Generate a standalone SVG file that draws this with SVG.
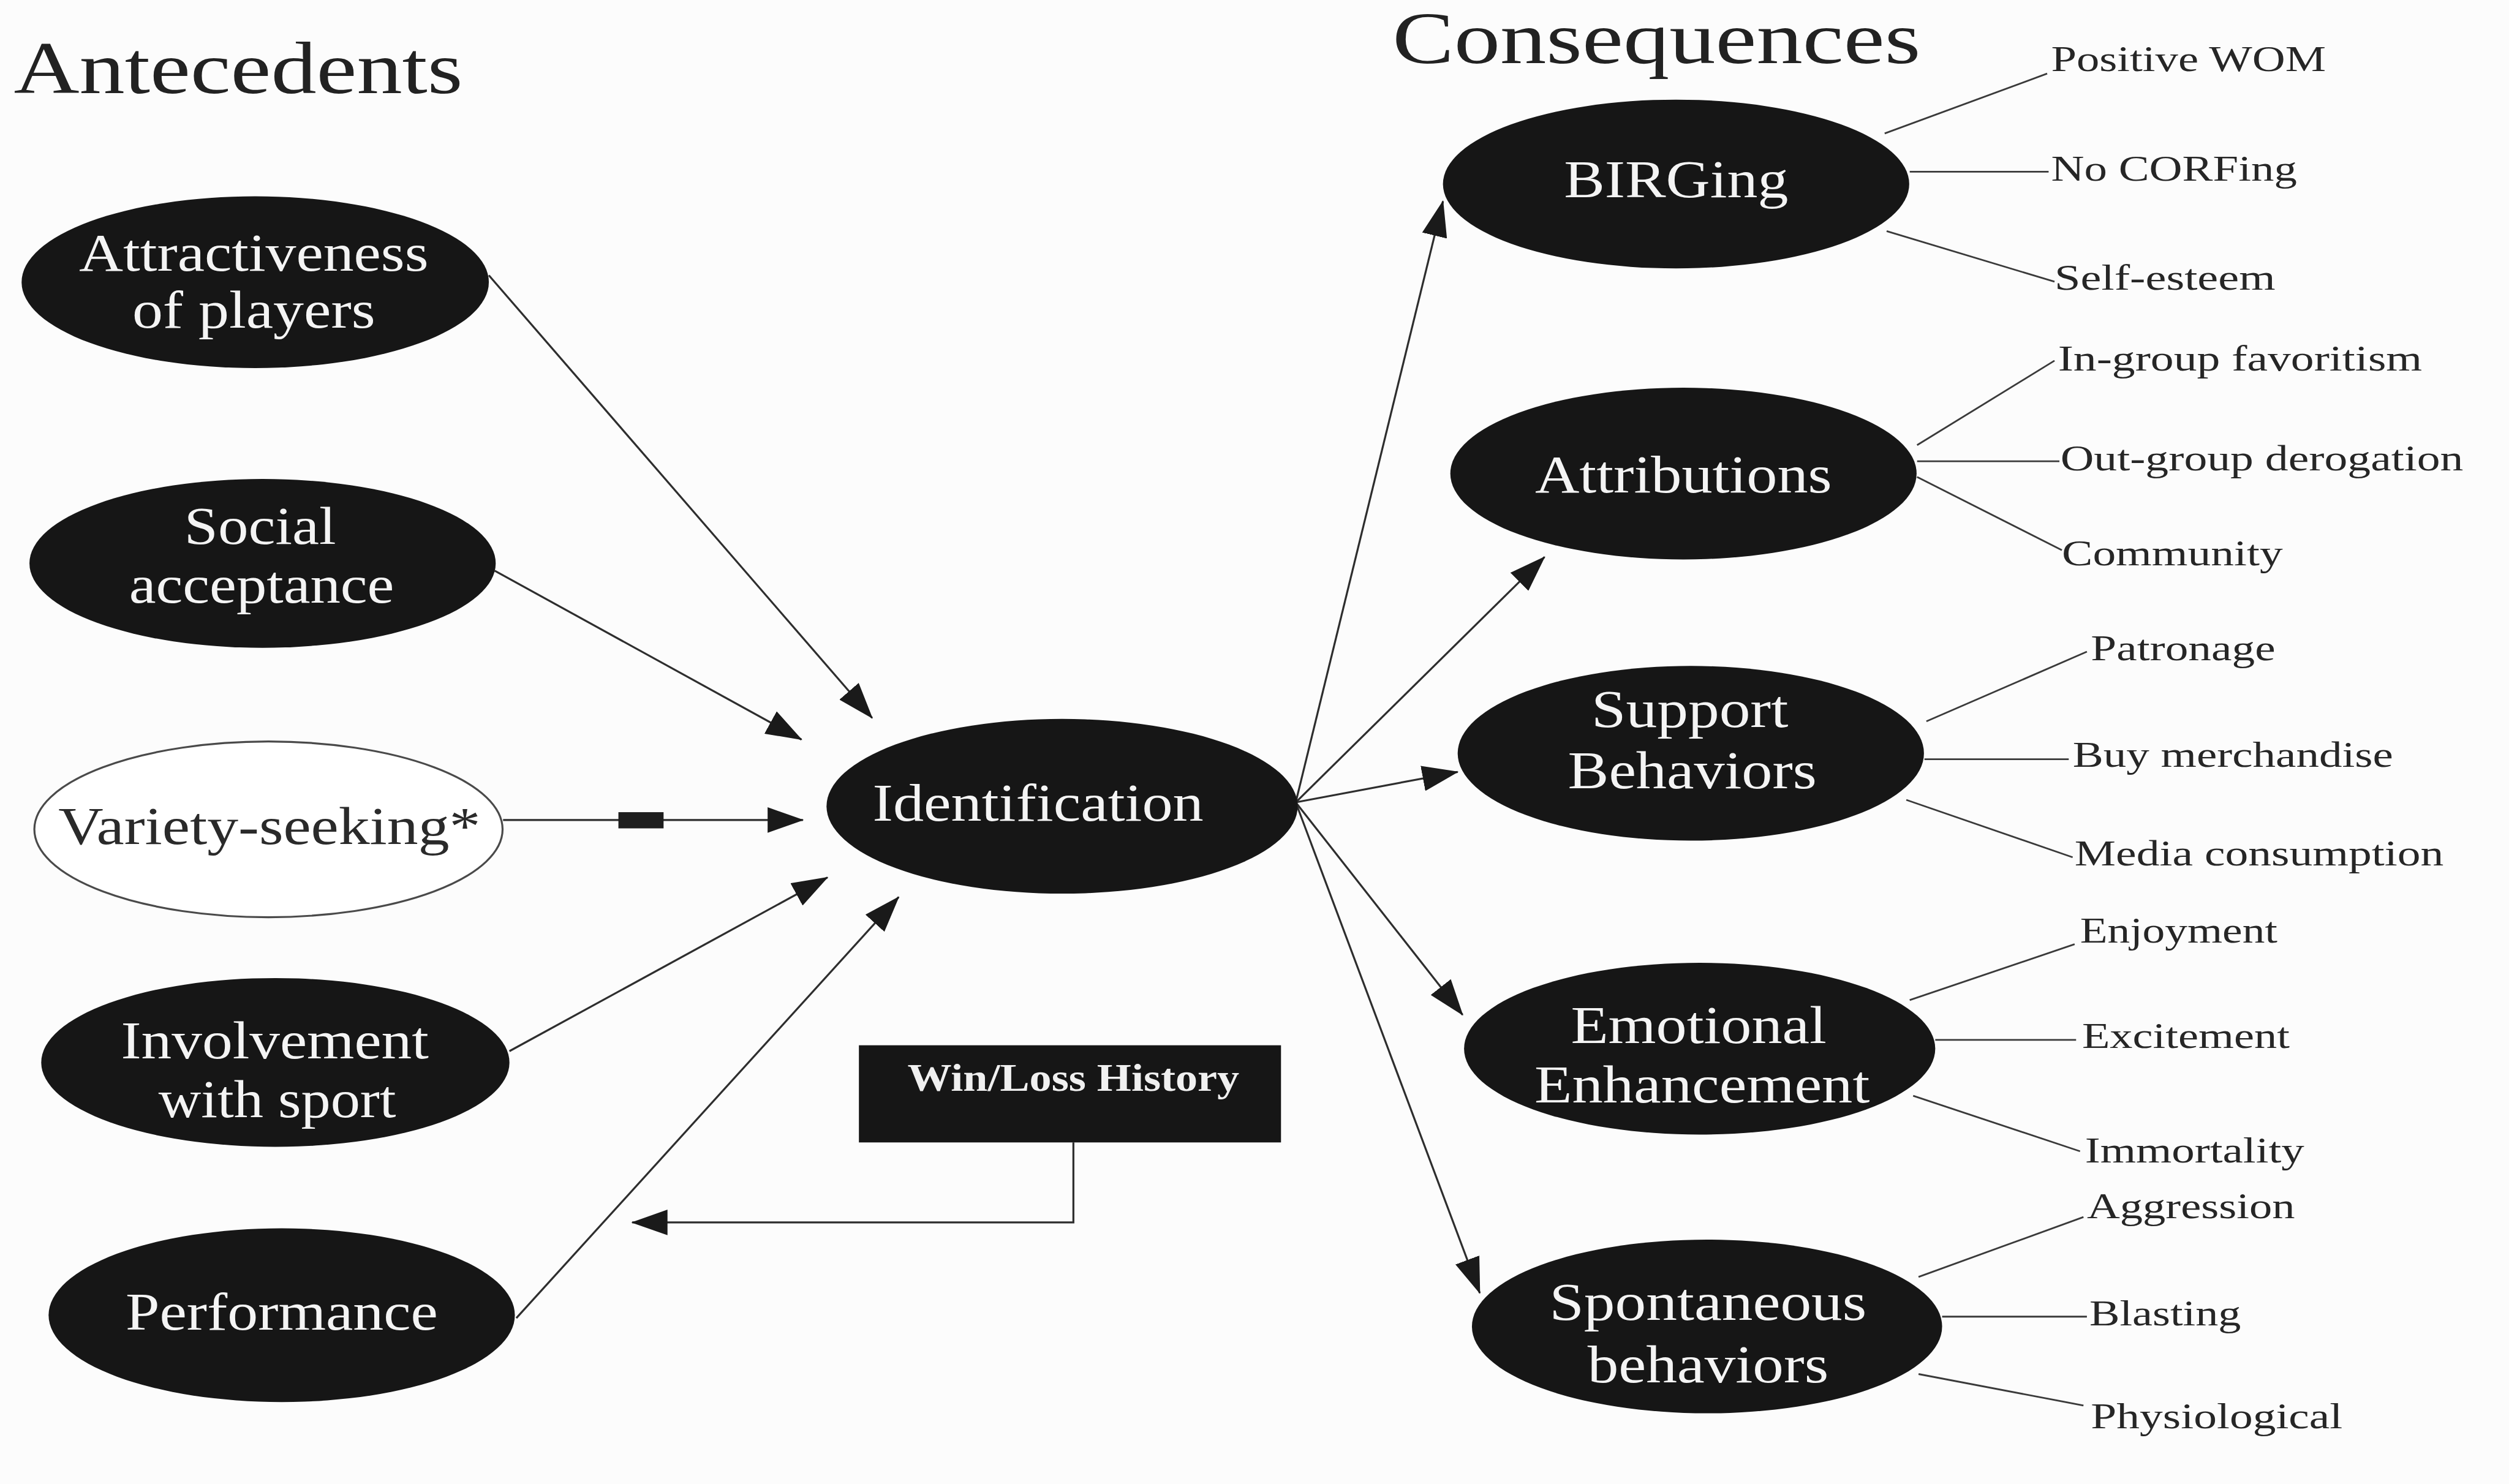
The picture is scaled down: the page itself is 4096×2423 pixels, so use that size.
<svg xmlns="http://www.w3.org/2000/svg" width="4096" height="2423" viewBox="0 0 4096 2423">
  <defs>
    <marker id="arrow" markerUnits="userSpaceOnUse" markerWidth="74" markerHeight="52" refX="72" refY="26" orient="auto">
      <path d="M0,0 L74,26 L0,52 z" fill="#1a1a1a"/>
    </marker>
    <style>
      .title { font-family: "Liberation Serif", "Times New Roman", serif; font-size: 150px; fill: #222; }
      .node { fill: #161616; }
      .open { fill: #ffffff; stroke: #4a4a4a; stroke-width: 4; }
      .ntext { font-family: "Liberation Serif", "Times New Roman", serif; font-size: 108px; fill: #f4f4f4; text-anchor: middle; }
      .otext { font-family: "Liberation Serif", "Times New Roman", serif; font-size: 108px; fill: #2a2a2a; text-anchor: middle; }
      .btext { font-family: "Liberation Serif", "Times New Roman", serif; font-size: 78px; font-weight: bold; fill: #f0f0f0; text-anchor: middle; }
      .label { font-family: "Liberation Serif", "Times New Roman", serif; font-size: 74px; fill: #262626; }
      .edge { stroke: #2e2e2e; stroke-width: 4; fill: none; }
      .leaf { stroke: #3a3a3a; stroke-width: 3.5; fill: none; }
    </style>
  </defs>
  <rect width="4096" height="2423" fill="#fcfcfc"/>
  <g transform="scale(0.80125)">
    <!-- section headings -->
    <text class="title" x="28" y="190" textLength="915" lengthAdjust="spacingAndGlyphs">Antecedents</text>
    <text class="title" x="2837" y="128" textLength="1076" lengthAdjust="spacingAndGlyphs">Consequences</text>

    <!-- connectors -->
    <g id="connectors">
      <line class="edge" x1="996" y1="561" x2="1777" y2="1463" marker-end="url(#arrow)"/>
      <line class="edge" x1="1008" y1="1163" x2="1633" y2="1507" marker-end="url(#arrow)"/>
      <line class="edge" x1="1025" y1="1671" x2="1636" y2="1671" marker-end="url(#arrow)"/>
      <rect x="1260" y="1655" width="92" height="33" fill="#1e1e1e"/>
      <line class="edge" x1="1038" y1="2142" x2="1686" y2="1788" marker-end="url(#arrow)"/>
      <line class="edge" x1="1052" y1="2686" x2="1831" y2="1828" marker-end="url(#arrow)"/>
      <polyline class="edge" points="2187,2328 2187,2491 1288,2491" marker-end="url(#arrow)"/>

      <line class="edge" x1="2640" y1="1635" x2="2940" y2="410" marker-end="url(#arrow)"/>
      <line class="edge" x1="2640" y1="1635" x2="3147" y2="1135" marker-end="url(#arrow)"/>
      <line class="edge" x1="2640" y1="1635" x2="2970" y2="1573" marker-end="url(#arrow)"/>
      <line class="edge" x1="2640" y1="1635" x2="2980" y2="2068" marker-end="url(#arrow)"/>
      <line class="edge" x1="2640" y1="1635" x2="3015" y2="2635" marker-end="url(#arrow)"/>

      <line class="leaf" x1="3840" y1="272" x2="4171" y2="150"/>
      <line class="leaf" x1="3891" y1="350" x2="4174" y2="350"/>
      <line class="leaf" x1="3844" y1="471" x2="4186" y2="574"/>
      <line class="leaf" x1="3906" y1="907" x2="4186" y2="735"/>
      <line class="leaf" x1="3906" y1="940" x2="4196" y2="940"/>
      <line class="leaf" x1="3906" y1="972" x2="4201" y2="1121"/>
      <line class="leaf" x1="3925" y1="1470" x2="4252" y2="1328"/>
      <line class="leaf" x1="3921" y1="1547" x2="4215" y2="1547"/>
      <line class="leaf" x1="3884" y1="1630" x2="4223" y2="1747"/>
      <line class="leaf" x1="3891" y1="2038" x2="4227" y2="1924"/>
      <line class="leaf" x1="3943" y1="2119" x2="4230" y2="2119"/>
      <line class="leaf" x1="3898" y1="2233" x2="4238" y2="2346"/>
      <line class="leaf" x1="3909" y1="2602" x2="4245" y2="2480"/>
      <line class="leaf" x1="3957" y1="2683" x2="4252" y2="2683"/>
      <line class="leaf" x1="3909" y1="2800" x2="4245" y2="2864"/>
    </g>

    <!-- antecedents -->
    <g id="attractiveness">
      <ellipse class="node" cx="520" cy="575" rx="476" ry="175"/>
      <text class="ntext" x="517" y="552" textLength="712" lengthAdjust="spacingAndGlyphs">Attractiveness</text>
      <text class="ntext" x="517" y="668" textLength="495" lengthAdjust="spacingAndGlyphs">of players</text>
    </g>
    <g id="social-acceptance">
      <ellipse class="node" cx="535" cy="1148" rx="475" ry="172"/>
      <text class="ntext" x="530" y="1108" textLength="309" lengthAdjust="spacingAndGlyphs">Social</text>
      <text class="ntext" x="533" y="1228" textLength="540" lengthAdjust="spacingAndGlyphs">acceptance</text>
    </g>
    <g id="variety-seeking">
      <ellipse class="open" cx="547" cy="1690" rx="477" ry="179"/>
      <text class="otext" x="549" y="1720" textLength="860" lengthAdjust="spacingAndGlyphs">Variety-seeking*</text>
    </g>
    <g id="involvement">
      <ellipse class="node" cx="561" cy="2165" rx="477" ry="172"/>
      <text class="ntext" x="560" y="2157" textLength="627" lengthAdjust="spacingAndGlyphs">Involvement</text>
      <text class="ntext" x="565" y="2276" textLength="484" lengthAdjust="spacingAndGlyphs">with sport</text>
    </g>
    <g id="performance">
      <ellipse class="node" cx="574" cy="2680" rx="475" ry="177"/>
      <text class="ntext" x="574" y="2709" textLength="636" lengthAdjust="spacingAndGlyphs">Performance</text>
    </g>

    <!-- centre -->
    <g id="identification">
      <ellipse class="node" cx="2164" cy="1643" rx="480" ry="178"/>
      <text class="ntext" x="2115" y="1672" textLength="674" lengthAdjust="spacingAndGlyphs">Identification</text>
    </g>
    <g id="win-loss-history">
      <rect class="node" x="1750" y="2130" width="860" height="198"/>
      <text class="btext" x="2187" y="2223" textLength="676" lengthAdjust="spacingAndGlyphs">Win/Loss History</text>
    </g>

    <!-- consequences -->
    <g id="birging">
      <ellipse class="node" cx="3415" cy="375" rx="475" ry="172"/>
      <text class="ntext" x="3415" y="402" textLength="457" lengthAdjust="spacingAndGlyphs">BIRGing</text>
    </g>
    <g id="attributions">
      <ellipse class="node" cx="3430" cy="965" rx="475" ry="175"/>
      <text class="ntext" x="3430" y="1003" textLength="605" lengthAdjust="spacingAndGlyphs">Attributions</text>
    </g>
    <g id="support-behaviors">
      <ellipse class="node" cx="3445" cy="1535" rx="475" ry="178"/>
      <text class="ntext" x="3443" y="1482" textLength="401" lengthAdjust="spacingAndGlyphs">Support</text>
      <text class="ntext" x="3448" y="1606" textLength="507" lengthAdjust="spacingAndGlyphs">Behaviors</text>
    </g>
    <g id="emotional-enhancement">
      <ellipse class="node" cx="3463" cy="2137" rx="480" ry="175"/>
      <text class="ntext" x="3461" y="2125" textLength="521" lengthAdjust="spacingAndGlyphs">Emotional</text>
      <text class="ntext" x="3468" y="2247" textLength="683" lengthAdjust="spacingAndGlyphs">Enhancement</text>
    </g>
    <g id="spontaneous-behaviors">
      <ellipse class="node" cx="3478" cy="2703" rx="479" ry="177"/>
      <text class="ntext" x="3480" y="2689" textLength="646" lengthAdjust="spacingAndGlyphs">Spontaneous</text>
      <text class="ntext" x="3480" y="2817" textLength="491" lengthAdjust="spacingAndGlyphs">behaviors</text>
    </g>

    <!-- outcome labels -->
    <g id="outcomes">
      <text class="label" x="4179" y="145" textLength="560" lengthAdjust="spacingAndGlyphs">Positive WOM</text>
      <text class="label" x="4179" y="368" textLength="501" lengthAdjust="spacingAndGlyphs">No CORFing</text>
      <text class="label" x="4186" y="590" textLength="450" lengthAdjust="spacingAndGlyphs">Self-esteem</text>
      <text class="label" x="4193" y="755" textLength="742" lengthAdjust="spacingAndGlyphs">In-group favoritism</text>
      <text class="label" x="4198" y="958" textLength="821" lengthAdjust="spacingAndGlyphs">Out-group derogation</text>
      <text class="label" x="4201" y="1152" textLength="450" lengthAdjust="spacingAndGlyphs">Community</text>
      <text class="label" x="4260" y="1345" textLength="376" lengthAdjust="spacingAndGlyphs">Patronage</text>
      <text class="label" x="4223" y="1562" textLength="653" lengthAdjust="spacingAndGlyphs">Buy merchandise</text>
      <text class="label" x="4227" y="1764" textLength="752" lengthAdjust="spacingAndGlyphs">Media consumption</text>
      <text class="label" x="4238" y="1921" textLength="402" lengthAdjust="spacingAndGlyphs">Enjoyment</text>
      <text class="label" x="4242" y="2136" textLength="423" lengthAdjust="spacingAndGlyphs">Excitement</text>
      <text class="label" x="4248" y="2369" textLength="447" lengthAdjust="spacingAndGlyphs">Immortality</text>
      <text class="label" x="4252" y="2482" textLength="424" lengthAdjust="spacingAndGlyphs">Aggression</text>
      <text class="label" x="4257" y="2701" textLength="309" lengthAdjust="spacingAndGlyphs">Blasting</text>
      <text class="label" x="4260" y="2910" textLength="513" lengthAdjust="spacingAndGlyphs">Physiological</text>
    </g>
  </g>
</svg>
